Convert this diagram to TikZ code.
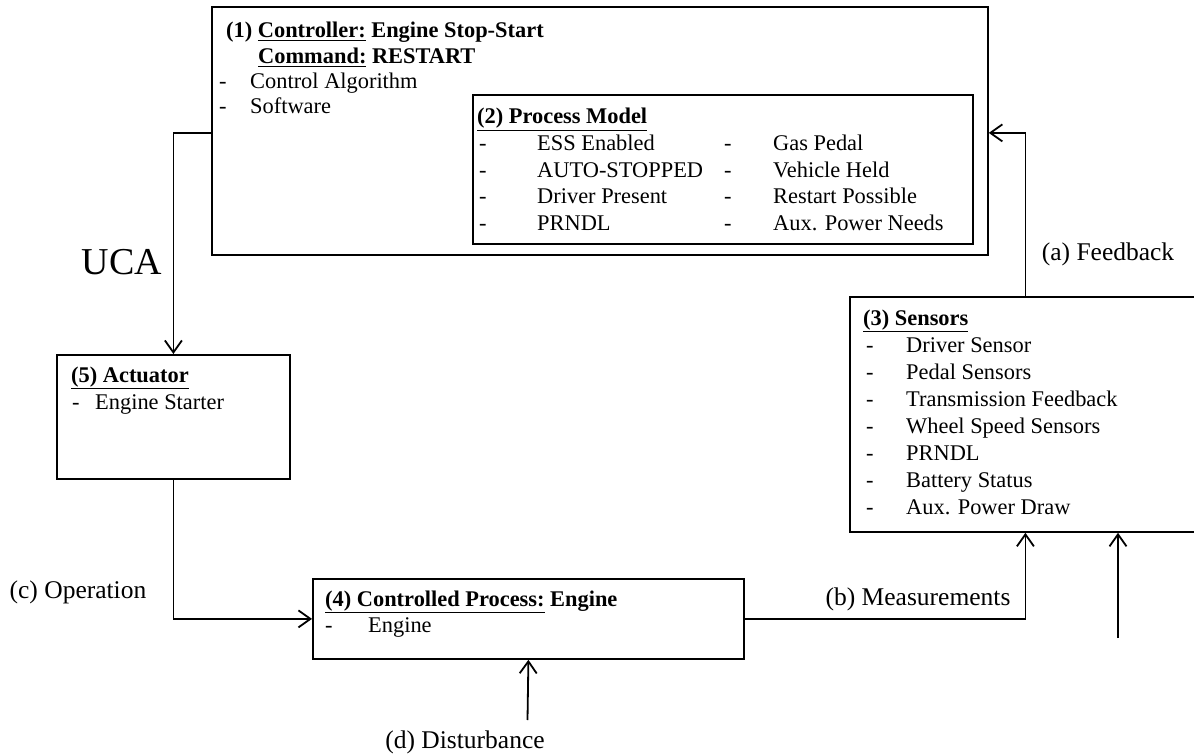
\documentclass[tikz,border=0pt]{standalone}
\usepackage{fontspec}
\setmainfont{Liberation Serif}
\usetikzlibrary{arrows.meta}
\tikzset{
  box/.style={draw, line width=1.8pt, rectangle, inner sep=0pt, anchor=north west},
  txt/.style={anchor=base west, inner sep=0pt, font=\fontsize{22.4}{26}\selectfont},
  ttl/.style={anchor=base west, inner sep=0pt, font=\fontsize{22.4}{26}\selectfont\bfseries},
  lbl/.style={anchor=base, inner sep=0pt, font=\fontsize{25.5}{30}\selectfont},
  ucalbl/.style={anchor=base, inner sep=0pt, font=\fontsize{38}{44}\selectfont},
  arr/.style={line width=1.8pt, -{Straight Barb[length=12pt,width=17pt]}},
}
\begin{document}
\begin{tikzpicture}[x=1pt,y=-1pt]
\clip (0,0) rectangle (1194,754);
\fill[white] (0,0) rectangle (1194,754);
% boxes
\node[box, minimum width=776pt, minimum height=248pt] (ctrl) at (211,6) {};
\node[box, minimum width=500pt, minimum height=149pt] (pm) at (472,94) {};
\node[box, minimum width=351pt, minimum height=235pt] (sens) at (849,296) {};
\node[box, minimum width=233pt, minimum height=124pt] (act) at (56,354) {};
\node[box, minimum width=431pt, minimum height=80pt] (proc) at (312,578) {};
% controller text
\node[ttl] (c1) at (226,38) {(1) \underline{Controller:} Engine Stop-Start};
\node[ttl] (c2) at (258,64) {\underline{Command:} RESTART};
\node[txt] (c3d) at (219,89) {-};
\node[txt] (c3) at (250,89) {Control Algorithm};
\node[txt] (c4d) at (219,114) {-};
\node[txt] (c4) at (250,114) {Software};
% process model text
\node[ttl] (p0) at (477,124) {\underline{(2) Process Model}};
\node[txt] (p1d) at (479,151) {-};
\node[txt] (p1) at (537,151) {ESS Enabled};
\node[txt] (p2d) at (479,178) {-};
\node[txt] (p2) at (537,178) {AUTO-STOPPED};
\node[txt] (p3d) at (479,204) {-};
\node[txt] (p3) at (537,204) {Driver Present};
\node[txt] (p4d) at (479,230) {-};
\node[txt] (p4) at (537,230) {PRNDL};
\node[txt] (q1d) at (724,151) {-};
\node[txt] (q1) at (773,151) {Gas Pedal};
\node[txt] (q2d) at (724,178) {-};
\node[txt] (q2) at (773,178) {Vehicle Held};
\node[txt] (q3d) at (724,204) {-};
\node[txt] (q3) at (773,204) {Restart Possible};
\node[txt] (q4d) at (724,230) {-};
\node[txt] (q4) at (773,230) {Aux. Power Needs};
% sensors text
\node[ttl] (s0) at (863,325) {\underline{(3) Sensors}};
\foreach \t [count=\i] in {Driver Sensor, Pedal Sensors, Transmission Feedback, Wheel Speed Sensors, PRNDL, Battery Status, Aux. Power Draw}{
  \node[txt] (sd\i) at (866,{325+27*\i}) {-};
  \node[txt] (s\i) at (906,{325+27*\i}) {\t};
}
% actuator text
\node[ttl] (a0) at (71,382) {\underline{(5) Actuator}};
\node[txt] (a1d) at (72,409) {-};
\node[txt] (a1) at (95,409) {Engine Starter};
% controlled process text
\node[ttl] (e0) at (325,606) {\underline{(4) Controlled Process:} Engine};
\node[txt] (e1d) at (325,632) {-};
\node[txt] (e1) at (368,632) {Engine};
% labels
\node[ucalbl] (uca) at (122,274) {UCA};
\node[lbl] (lfb) at (1108,261) {(a) Feedback};
\node[lbl] (lms) at (918,605) {(b) Measurements};
\node[lbl] (lop) at (78,598) {(c) Operation};
\node[lbl] (lds) at (465,748) {(d) Disturbance};
% connectors
\coordinate (cw) at ([yshift=-2.5pt]ctrl.west);
\coordinate (ce) at ([yshift=-2pt]ctrl.east);
\coordinate (dist0) at (527.5,720);
\coordinate (extra0) at (1118,638);
\draw[arr] (cw) -| (act.north);
\draw[arr] (act.south) |- (proc.west);
\draw[arr] (proc.east) -| (sens.south);
\draw[arr] (sens.north) |- (ce);
\draw[arr] (dist0) -- (proc.south);
\draw[arr] (extra0) -- (extra0 |- sens.south);
\end{tikzpicture}
\end{document}
